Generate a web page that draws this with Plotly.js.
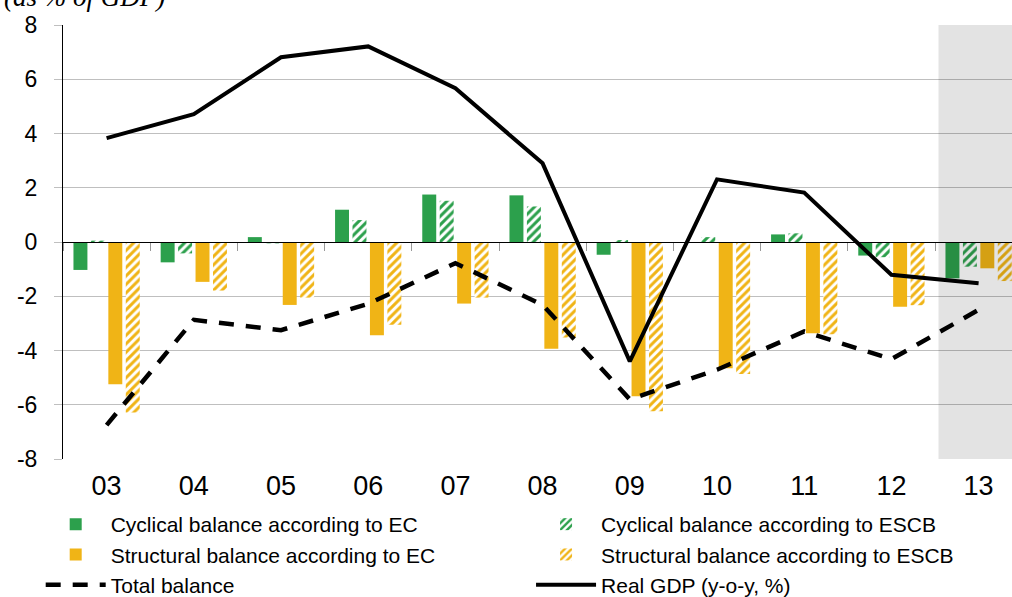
<!DOCTYPE html>
<html>
<head>
<meta charset="utf-8">
<script src="https://cdn.plot.ly/plotly-3.0.1.min.js"></script>
<style>html,body{margin:0;padding:0;background:#fff;}#chart{width:1012px;height:597px;}</style>
</head>
<body>
<div id="chart"></div>
<script>
const years = ['03','04','05','06','07','08','09','10','11','12','13'];
const cyclicalEC   = [-1.03, -0.75, 0.18, 1.19, 1.75, 1.72, -0.47, 0.0, 0.28, -0.50, -1.34];
const cyclicalESCB = [0.05, -0.42, -0.05, 0.81, 1.52, 1.31, 0.07, 0.18, 0.32, -0.56, -0.91];
const structuralEC   = [-5.24, -1.47, -2.32, -3.44, -2.27, -3.94, -5.69, -4.65, -3.36, -2.39, -0.97];
const structuralESCB = [-6.29, -1.79, -2.05, -3.05, -2.05, -3.52, -6.24, -4.87, -3.40, -2.33, -1.44];
const totalBalance = [-6.75, -2.87, -3.25, -2.28, -0.78, -2.32, -5.80, -4.71, -3.30, -4.32, -2.50];
const realGDP      = [3.83, 4.71, 6.81, 7.21, 5.67, 2.90, -4.40, 2.31, 1.82, -1.21, -1.52];
const yTicks = [-8, -6, -4, -2, 0, 2, 4, 6, 8];
const yTickText = ['-8', '-6', '-4', '-2', '0', '2', '4', '6', '8'];
const names = ['Cyclical balance according to EC', 'Cyclical balance according to ESCB',
               'Structural balance according to EC', 'Structural balance according to ESCB',
               'Total balance', 'Real GDP (y-o-y, %)'];
const forecastStart = 9.54;

const GREEN = '#2ca04c';
const YELLOW = '#f0b416';
const XRANGE = [-0.5, 10.383];

function solidBar(y, color, name, leg) {
  return {type: 'bar', x: years, y: y, name: name, xaxis: 'x', yaxis: 'y', legend: leg,
          marker: {color: color, line: {width: 0}}, hoverinfo: 'skip'};
}
function hatchBar(y, color, name, leg) {
  return {type: 'bar', x: years, y: y, name: name, xaxis: 'x', yaxis: 'y', legend: leg,
          marker: {color: color, line: {width: 0},
                   pattern: {shape: '/', fgcolor: color, bgcolor: '#ffffff', size: 6, solidity: 0.5}},
          hoverinfo: 'skip'};
}

const traces = [
  solidBar(cyclicalEC, GREEN, names[0], 'legend'),
  hatchBar(cyclicalESCB, GREEN, names[1], 'legend2'),
  solidBar(structuralEC, YELLOW, names[2], 'legend'),
  hatchBar(structuralESCB, YELLOW, names[3], 'legend2'),
  {type: 'scatter', mode: 'lines', x: years, y: totalBalance, name: names[4], xaxis: 'x2', yaxis: 'y',
   legend: 'legend', line: {color: '#000', width: 4.5, dash: '15px,12px'}, hoverinfo: 'skip'},
  {type: 'scatter', mode: 'lines', x: years, y: realGDP, name: names[5], xaxis: 'x2', yaxis: 'y',
   legend: 'legend2', line: {color: '#000', width: 4}, hoverinfo: 'skip'}
];

const legendBase = {orientation: 'v', xanchor: 'left', yanchor: 'top', xref: 'paper', yref: 'paper',
                    font: {size: 21}, itemwidth: 60, bgcolor: 'rgba(0,0,0,0)', traceorder: 'normal',
                    borderwidth: 0};

const layout = {
  width: 1012, height: 597,
  margin: {l: 63, r: 0, t: 25, b: 138, autoexpand: false},
  paper_bgcolor: '#fff', plot_bgcolor: '#fff',
  font: {family: '"Liberation Sans", Arial, sans-serif', color: '#000'},
  barmode: 'group', bargap: 0.2, bargroupgap: 0.2,
  showlegend: true,
  xaxis: {type: 'category', range: XRANGE, showline: false, ticks: '', showgrid: false, zeroline: false,
          tickfont: {size: 27}, ticklabelstandoff: 8, automargin: false, fixedrange: true},
  xaxis2: {type: 'category', overlaying: 'x', anchor: 'free', position: 0.5, range: XRANGE,
           showline: true, linecolor: '#000', linewidth: 1, ticks: 'outside', tickson: 'boundaries',
           ticklen: 8, tickcolor: '#999', showticklabels: false, showgrid: false, zeroline: false,
           automargin: false, fixedrange: true},
  yaxis: {range: [-8, 8], tickmode: 'array', tickvals: yTicks, ticktext: yTickText,
          tickfont: {size: 23}, ticks: 'outside', ticklen: 8, tickcolor: '#bfbfbf',
          gridcolor: '#bfbfbf', gridwidth: 1, showline: true, linecolor: '#000', linewidth: 1,
          zeroline: false, ticklabelstandoff: 12, automargin: false, fixedrange: true},
  legend: Object.assign({}, legendBase, {x: -0.0235, y: -0.1037}),
  legend2: Object.assign({}, legendBase, {x: 0.4932, y: -0.1037}),
  shapes: [{type: 'rect', xref: 'x', yref: 'y', x0: forecastStart, x1: 10.8, y0: -8, y1: 8,
            fillcolor: 'rgba(0,0,0,0.11)', line: {width: 0}, layer: 'above'}],
  annotations: [{text: '<i>(as % of GDP)</i>', xref: 'paper', yref: 'paper', x: -0.064, y: 1.064,
                 xanchor: 'left', yanchor: 'middle', showarrow: false,
                 font: {family: '"Liberation Serif", "Times New Roman", serif', size: 27, color: '#000'}}]
};

Plotly.newPlot('chart', traces, layout, {staticPlot: true, displayModeBar: false});
</script>
</body>
</html>
